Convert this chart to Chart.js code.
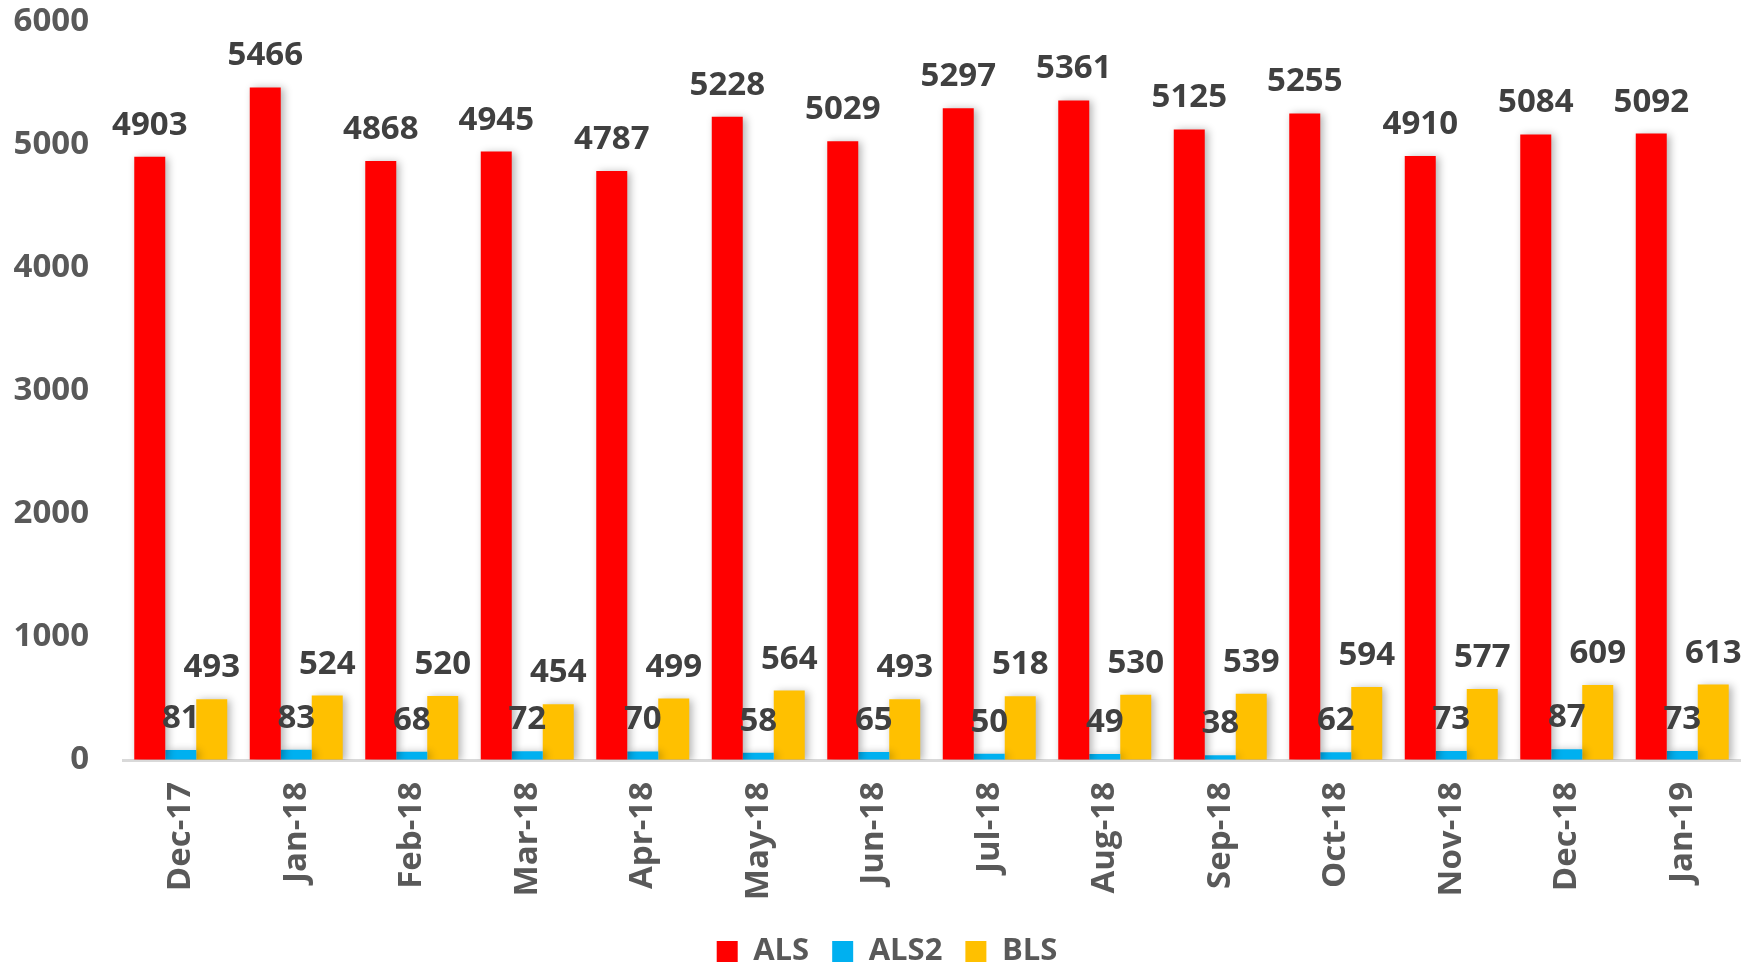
<!DOCTYPE html>
<html><head><meta charset="utf-8">
<script src="https://cdn.jsdelivr.net/npm/chart.js@4.4.1/dist/chart.umd.min.js"></script>
<style>html,body{margin:0;padding:0;background:#fff;overflow:hidden}#wrap{width:1758px;height:966px}</style>
</head><body><div id="wrap"><canvas id="c" width="1758" height="966"></canvas></div>
<script>
const categories = ['Dec-17','Jan-18','Feb-18','Mar-18','Apr-18','May-18','Jun-18','Jul-18','Aug-18','Sep-18','Oct-18','Nov-18','Dec-18','Jan-19'];
const alsValues  = [4903,5466,4868,4945,4787,5228,5029,5297,5361,5125,5255,4910,5084,5092];
const als2Values = [81,83,68,72,70,58,65,50,49,38,62,73,87,73];
const blsValues  = [493,524,520,454,499,564,493,518,530,539,594,577,609,613];
const seriesNames = ['ALS','ALS2','BLS'];
const seriesColors = ['#FF0000','#00B0F0','#FFC000'];
const yMin = 0, yMax = 6000, yStep = 1000;

const FONT = '"Open Sans", "Liberation Sans", sans-serif';

const shadowPlugin = {
  id: 'barShadow',
  beforeDatasetsDraw(chart){
    const ctx = chart.ctx;
    ctx.save();
    ctx.shadowColor = 'rgba(0,0,0,0.30)';
    ctx.shadowBlur = 8;
    ctx.shadowOffsetX = 3;
    ctx.shadowOffsetY = 1;
  },
  afterDatasetsDraw(chart){
    chart.ctx.restore();
  }
};

const valueLabels = {
  id: 'valueLabels',
  afterDatasetsDraw(chart){
    const ctx = chart.ctx;
    ctx.save();
    ctx.shadowColor = 'transparent';
    ctx.font = 'bold 33px ' + FONT;
    ctx.fillStyle = '#404040';
    ctx.textAlign = 'center';
    ctx.textBaseline = 'alphabetic';
    chart.data.datasets.forEach((ds, i) => {
      const meta = chart.getDatasetMeta(i);
      meta.data.forEach((bar, j) => {
        ctx.fillText(String(ds.data[j]), bar.x, bar.y - 22);
      });
    });
    ctx.restore();
  }
};

// shift the legend block slightly right, as in the reference
const legendShift = {
  id: 'legendShift',
  afterLayout(chart){
    if (chart.legend) { chart.legend.left += 28; }
  }
};

const seriesData = [alsValues, als2Values, blsValues];

new Chart(document.getElementById('c'), {
  type: 'bar',
  data: {
    labels: categories,
    datasets: seriesNames.map((n, i) => ({
      label: n,
      data: seriesData[i],
      backgroundColor: seriesColors[i],
      borderWidth: 0,
      categoryPercentage: 0.805,
      barPercentage: 1.0
    }))
  },
  options: {
    responsive: false,
    animation: false,
    devicePixelRatio: 1,
    layout: { padding: { left: 6, right: 18, top: -2, bottom: -11 } },
    plugins: {
      legend: {
        position: 'bottom',
        labels: {
          boxWidth: 21,
          boxHeight: 21,
          padding: 23,
          color: '#595959',
          font: { family: FONT, size: 31, weight: 'bold' }
        }
      },
      tooltip: { enabled: false }
    },
    scales: {
      x: {
        grid: { display: false, drawTicks: false },
        border: { display: true, color: '#D9D9D9', width: 3 },
        ticks: {
          autoSkip: false,
          minRotation: 90,
          maxRotation: 90,
          padding: 22,
          color: '#595959',
          font: { family: FONT, size: 33, weight: 'bold' }
        },
        afterFit(s){ s.height = 153; }
      },
      y: {
        min: yMin, max: yMax,
        grid: { display: true, drawOnChartArea: false, drawTicks: true, tickLength: 32, color: 'rgba(0,0,0,0)' },
        border: { display: false },
        ticks: {
          stepSize: yStep,
          padding: 2,
          color: '#595959',
          font: { family: FONT, size: 33, weight: 'bold' },
          callback: (v) => String(v)
        },
        afterFit(s){ s.width = 117; }
      }
    }
  },
  plugins: [shadowPlugin, valueLabels, legendShift]
});
</script>
</body></html>
